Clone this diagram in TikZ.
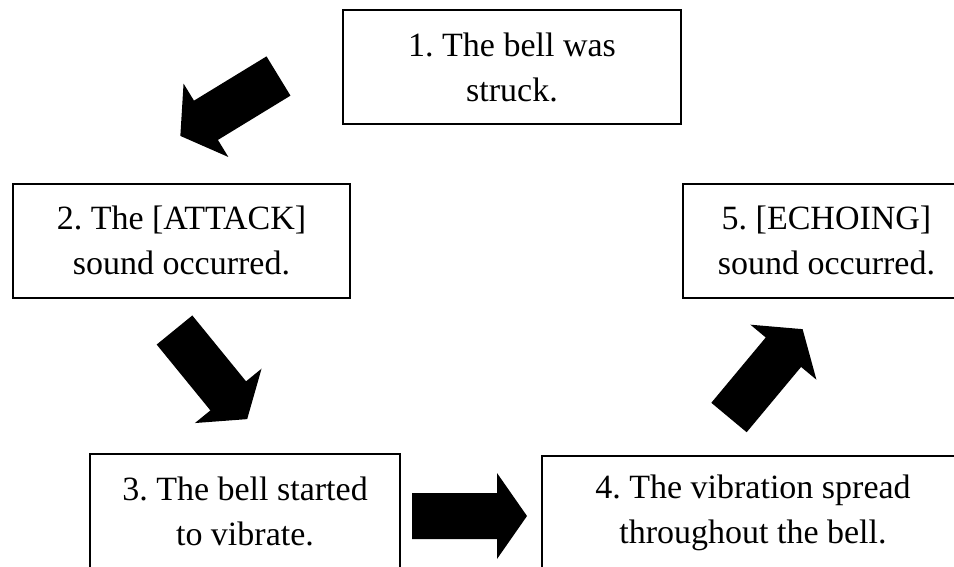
\documentclass[tikz,border=0pt]{standalone}
\usepackage{fontspec}
\setmainfont{Liberation Serif}
\frenchspacing
\newcommand\blockarrow[2]{%
  \fill[shift={(#1)}, rotate=#2] (0,-23) -- (85,-23) -- (85,-43) -- (115,0) -- (85,43) -- (85,23) -- (0,23) -- cycle;}
\begin{document}
\begin{tikzpicture}[x=1pt,y=1pt,
  stepbox/.style={draw=black, line width=2pt, fill=white, align=center, inner sep=0pt,
    font=\fontsize{34}{45}\selectfont\frenchspacing, minimum height=114pt}]
\useasboundingbox (0,0) rectangle (954,-566);
\clip (0,0) rectangle (954,-566);
\fill[white] (0,0) rectangle (954,-566);
\node[stepbox, minimum width=338pt] (b1) at (512,-67) {1. The bell was\\struck.};
\node[stepbox, minimum width=337pt] (b2) at (181.5,-240.5) {2. The [ATTACK]\\sound occurred.};
\node[stepbox, minimum width=287pt] (b5) at (826.5,-240.5) {5. [ECHOING]\\sound occurred.};
\node[stepbox, minimum width=310pt] (b3) at (245,-511) {3. The bell started\\to vibrate.};
\node[stepbox, minimum width=422pt] (b4) at (753,-513) {4. The vibration spread\\throughout the bell.};
\coordinate (a1) at (278.5,-76);
\coordinate (a2) at (174.5,-330);
\coordinate (a3) at (412,-516);
\coordinate (a4) at (729,-417.5);
\blockarrow{a1}{211.4}
\blockarrow{a2}{-50.8}
\blockarrow{a3}{0}
\blockarrow{a4}{50.2}
\end{tikzpicture}
\end{document}
